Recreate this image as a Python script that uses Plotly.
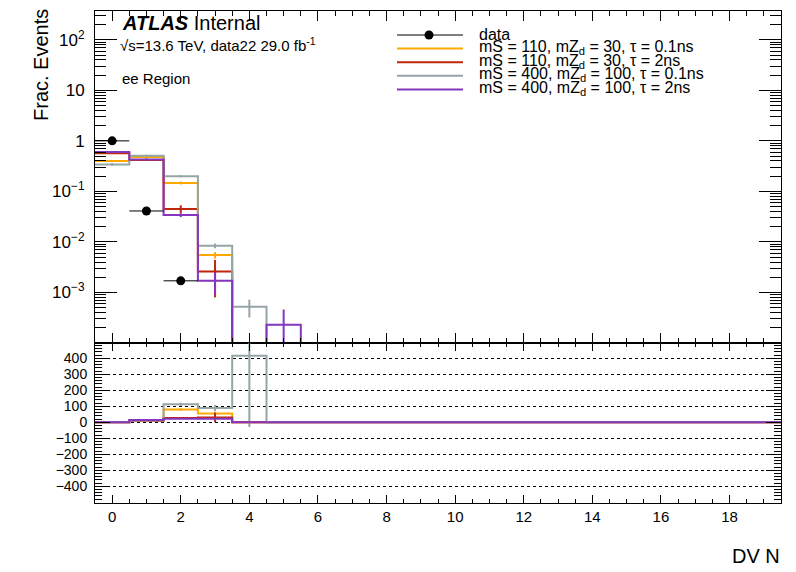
import numpy as np
import plotly.graph_objects as go

# ---------------- data ----------------
bin_centers = list(range(20))
data_centers = [0, 1, 2]
data_vals = [1.0, 0.041, 0.0017]
data_errs = [0.01, 0.002, 0.0002]

series_names = [
    "mS = 110, mZ<sub>d</sub> = 30, τ = 0.1ns",
    "mS = 110, mZ<sub>d</sub> = 30, τ = 2ns",
    "mS = 400, mZ<sub>d</sub> = 100, τ = 0.1ns",
    "mS = 400, mZ<sub>d</sub> = 100, τ = 2ns",
]
series_colors = ["#FFA800", "#C0260A", "#95A5A6", "#8436BE"]

orange_vals = [0.40, 0.48, 0.147, 0.0055, 0, 0, 0, 0, 0, 0, 0, 0, 0, 0, 0, 0, 0, 0, 0, 0]
orange_errs = [0.02, 0.03, 0.01, 0.0008, 0, 0, 0, 0, 0, 0, 0, 0, 0, 0, 0, 0, 0, 0, 0, 0]
red_vals = [0.57, 0.42, 0.045, 0.0026, 0, 0, 0, 0, 0, 0, 0, 0, 0, 0, 0, 0, 0, 0, 0, 0]
red_errs = [0.02, 0.02, 0.008, 0.0018, 0, 0, 0, 0, 0, 0, 0, 0, 0, 0, 0, 0, 0, 0, 0, 0]
grey_vals = [0.34, 0.51, 0.20, 0.0084, 0.00052, 0, 0, 0, 0, 0, 0, 0, 0, 0, 0, 0, 0, 0, 0, 0]
grey_errs = [0.02, 0.02, 0.01, 0.0009, 0.0002, 0, 0, 0, 0, 0, 0, 0, 0, 0, 0, 0, 0, 0, 0, 0]
purple_vals = [0.60, 0.43, 0.034, 0.0017, 0, 0.00023, 0, 0, 0, 0, 0, 0, 0, 0, 0, 0, 0, 0, 0, 0]
purple_errs = [0.02, 0.02, 0.003, 0.0008, 0, 0.00023, 0, 0, 0, 0, 0, 0, 0, 0, 0, 0, 0, 0, 0, 0]

orange_ratio = [0, 12, 80, 56, 0, 0, 0, 0, 0, 0, 0, 0, 0, 0, 0, 0, 0, 0, 0, 0]
orange_ratio_err = [0, 1, 8, 5, 0, 0, 0, 0, 0, 0, 0, 0, 0, 0, 0, 0, 0, 0, 0, 0]
red_ratio = [0, 10, 27, 31, 0, 0, 0, 0, 0, 0, 0, 0, 0, 0, 0, 0, 0, 0, 0, 0]
red_ratio_err = [0, 1, 4, 30, 0, 0, 0, 0, 0, 0, 0, 0, 0, 0, 0, 0, 0, 0, 0, 0]
grey_ratio = [0, 12, 113, 89, 416, 0, 0, 0, 0, 0, 0, 0, 0, 0, 0, 0, 0, 0, 0, 0]
grey_ratio_err = [0, 1, 10, 20, 445, 0, 0, 0, 0, 0, 0, 0, 0, 0, 0, 0, 0, 0, 0, 0]
purple_ratio = [0, 15, 23, 23, 0, 0, 0, 0, 0, 0, 0, 0, 0, 0, 0, 0, 0, 0, 0, 0]
purple_ratio_err = [0, 1, 2, 3, 0, 0, 0, 0, 0, 0, 0, 0, 0, 0, 0, 0, 0, 0, 0, 0]

main_tick_vals = [1e-3, 1e-2, 1e-1, 1, 10, 100]
main_tick_text = ["10<sup>−3</sup>", "10<sup>−2</sup>", "10<sup>−1</sup>", "1", "10", "10<sup>2</sup>"]
ratio_tick_vals = [-400, -300, -200, -100, 0, 100, 200, 300, 400]
x_tick_vals = [0, 2, 4, 6, 8, 10, 12, 14, 16, 18]

# ---------------- layout constants ----------------
W, H = 796, 572
FONT = "Liberation Sans, Arial, Helvetica, sans-serif"
YMIN_LOG, YMAX_LOG = -4, 2.57
XR = [-0.5, 19.5]
TICKC = "black"


def px(x):
    return x / W


def py(y):
    return 1 - y / H


centers = np.array(bin_centers, dtype=float)
edges = np.append(centers - 0.5, centers[-1] + 0.5)

fig = go.Figure()

all_vals = [orange_vals, red_vals, grey_vals, purple_vals]
all_errs = [orange_errs, red_errs, grey_errs, purple_errs]
all_ratio = [orange_ratio, red_ratio, grey_ratio, purple_ratio]
all_ratio_err = [orange_ratio_err, red_ratio_err, grey_ratio_err, purple_ratio_err]

floor = 10 ** YMIN_LOG
for vals, errs, col, name in zip(all_vals, all_errs, series_colors, series_names):
    v = np.array(vals, dtype=float)
    e = np.array(errs, dtype=float)
    vp = np.where(v > 0, v, floor)
    fig.add_trace(go.Scatter(x=edges, y=np.append(vp, vp[-1]), mode="lines",
                             line=dict(color=col, width=2, shape="hv"),
                             xaxis="x", yaxis="y", showlegend=False, name=name,
                             hoverinfo="skip"))
    m = (v > 0) & (e > 0)
    fig.add_trace(go.Scatter(x=centers[m], y=v[m], mode="markers",
                             marker=dict(size=1, opacity=0, color=col),
                             error_y=dict(type="data", array=e[m],
                                          arrayminus=np.minimum(e[m], 0.97 * v[m]),
                                          color=col, thickness=2, width=0),
                             xaxis="x", yaxis="y", showlegend=False, hoverinfo="skip"))

for vals, errs, col, name in zip(all_ratio, all_ratio_err, series_colors, series_names):
    v = np.array(vals, dtype=float)
    e = np.array(errs, dtype=float)
    fig.add_trace(go.Scatter(x=edges, y=np.append(v, v[-1]), mode="lines",
                             line=dict(color=col, width=2, shape="hv"),
                             xaxis="x2", yaxis="y2", showlegend=False, name=name,
                             hoverinfo="skip"))
    m = e > 0
    fig.add_trace(go.Scatter(x=centers[m], y=v[m], mode="markers",
                             marker=dict(size=1, opacity=0, color=col),
                             error_y=dict(type="data", array=e[m], color=col, thickness=2, width=0),
                             xaxis="x2", yaxis="y2", showlegend=False, hoverinfo="skip"))

# data points
fig.add_trace(go.Scatter(x=data_centers, y=data_vals, mode="markers",
                         marker=dict(color="black", size=9),
                         error_x=dict(type="constant", value=0.5, color="black", thickness=1, width=0),
                         error_y=dict(type="data", array=data_errs, color="black", thickness=1, width=0),
                         xaxis="x", yaxis="y", showlegend=False, name="data"))

# ---------------- axes ----------------
xdom = [px(95), px(781)]
main_dom = [py(343), py(11)]
ratio_dom = [py(503), py(343)]

minor_log = [m * 10.0 ** k for k in range(-4, 3) for m in range(2, 10)]

common_ax = dict(showline=True, linecolor="black", linewidth=1, mirror="ticks",
                 ticks="inside", tickcolor=TICKC, tickwidth=1, showgrid=False, zeroline=False)

fig.update_layout(
    width=W, height=H,
    margin=dict(l=0, r=0, t=0, b=0),
    paper_bgcolor="white", plot_bgcolor="white",
    font=dict(family=FONT, color="black"),
    showlegend=False,
    xaxis=dict(domain=xdom, range=XR, anchor="y", showticklabels=False,
               tickmode="array", tickvals=x_tick_vals, ticklen=10,
               minor=dict(ticks="inside", dtick=0.5, tick0=0, ticklen=5, tickcolor=TICKC),
               **common_ax),
    yaxis=dict(domain=main_dom, type="log", range=[YMIN_LOG, YMAX_LOG], anchor="x",
               tickmode="array", tickvals=main_tick_vals, ticktext=main_tick_text,
               ticklen=22, tickfont=dict(size=17), ticklabelstandoff=6,
               minor=dict(ticks="inside", tickmode="array", tickvals=minor_log,
                          ticklen=11, tickcolor=TICKC),
               **common_ax),
    xaxis2=dict(domain=xdom, range=XR, anchor="y2",
                tickmode="array", tickvals=x_tick_vals, ticklen=8,
                tickfont=dict(size=15),
                minor=dict(ticks="inside", dtick=0.5, tick0=0, ticklen=4, tickcolor=TICKC),
                **common_ax),
    yaxis2=dict(domain=ratio_dom, range=[-504, 496], anchor="x2",
                tickmode="array", tickvals=ratio_tick_vals, ticklen=15,
                tickfont=dict(size=14), ticklabelstandoff=4,
                minor=dict(ticks="inside", dtick=20, tick0=0, ticklen=7, tickcolor=TICKC),
                **{k: v for k, v in common_ax.items() if k != "showgrid"},
                showgrid=True, gridcolor="black", griddash="dot", gridwidth=1),
)

# ---------------- annotations ----------------
ann = []
ann.append(dict(text="<b><i>ATLAS</i></b> Internal", x=px(120), y=py(23), xanchor="left",
                yanchor="middle", font=dict(size=20)))
ann.append(dict(text="√s=13.6 TeV, data22 29.0 fb<sup>-1</sup>", x=px(118), y=py(45),
                xanchor="left", yanchor="middle", font=dict(size=15)))
ann.append(dict(text="ee Region", x=px(120), y=py(78), xanchor="left", yanchor="middle",
                font=dict(size=15)))
ann.append(dict(text="Frac. Events", x=px(41), y=py(7), xanchor="center", yanchor="top",
                textangle=-90, font=dict(size=20)))
ann.append(dict(text="DV N", x=px(782), y=py(556), xanchor="right", yanchor="middle",
                font=dict(size=20)))

# compact ROOT-style legend
legend_labels = ["data"] + series_names
legend_colors = ["black"] + series_colors
shapes = []
for i, (lab, col) in enumerate(zip(legend_labels, legend_colors)):
    yy = 35 + i * 13.6
    ann.append(dict(text=lab, x=px(477), y=py(yy - 1), xanchor="left", yanchor="middle",
                    font=dict(size=16)))
    shapes.append(dict(type="line", xref="paper", yref="paper", x0=px(397), x1=px(463),
                       y0=py(yy), y1=py(yy), line=dict(color=col, width=1 if i == 0 else 2)))
shapes.append(dict(type="circle", xref="paper", yref="paper", xsizemode="pixel", ysizemode="pixel",
                   xanchor=px(429), yanchor=py(35), x0=-4.5, x1=4.5, y0=-4.5, y1=4.5,
                   fillcolor="black", line=dict(color="black", width=0)))

for a in ann:
    a.update(xref="paper", yref="paper", showarrow=False)
fig.update_layout(annotations=ann, shapes=shapes)

fig.write_html("out.html", config={"displayModeBar": False},
               post_script="document.body.style.margin='0';document.body.style.overflow='hidden';")
